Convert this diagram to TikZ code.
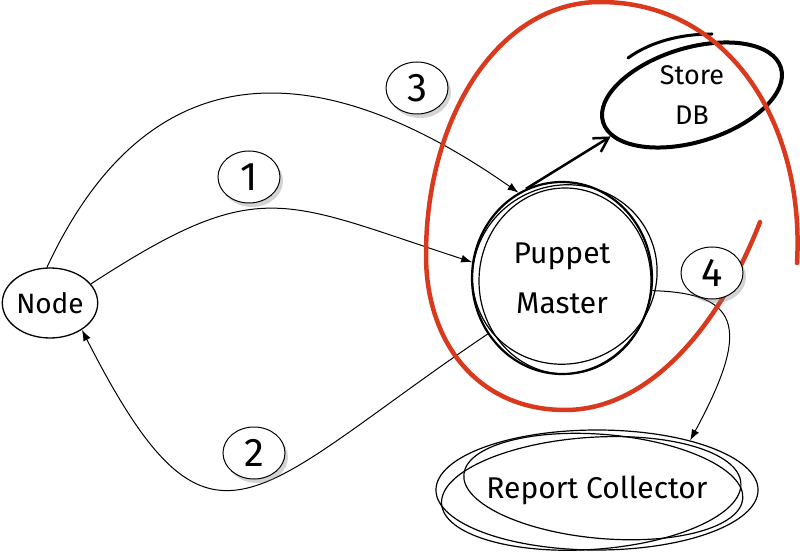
\documentclass[tikz,border=0pt]{standalone}
\usepackage{fontspec}
\setmainfont{Fira Sans}
\usepackage{xcolor}
\usetikzlibrary{arrows.meta,positioning,shapes.geometric,shadows}
\definecolor{pmRed}{HTML}{D9391C}
\tikzset{
  flowLine/.style={line width=1pt,-{Latex[length=11pt,width=8pt]}},
  sketchLine/.style={line width=1.2pt},
  numLabel/.style={ellipse,draw,fill=white,line width=1pt,minimum width=62pt,minimum height=52pt,inner sep=0pt,
    drop shadow={opacity=0.35,shadow xshift=3pt,shadow yshift=-4pt},font=\fontsize{40}{40}\selectfont},
}

\begin{document}
\begin{tikzpicture}[x=1pt,y=1pt]
    \useasboundingbox (0,0) rectangle (800,555);
    % main nodes
    \node[ellipse,draw,line width=1.3pt,minimum width=94pt,minimum height=70pt,inner sep=0pt,font=\fontsize{28}{30}\selectfont] (node) at (50,252) {Node};
    \node[ellipse,draw,line width=2.2pt,minimum width=180pt,minimum height=192pt,align=center,font=\fontsize{30}{50}\selectfont] (master) at (562,277) {Puppet\\Master};
    \draw[sketchLine] ([shift={(3,-3)}]master.center) ellipse[x radius=86,y radius=93];
    \draw[sketchLine,rotate around={25:(master.center)}] ([shift={(4,2)}]master.center) ellipse[x radius=93,y radius=89];
    \node[ellipse,draw,line width=4pt,rotate=17,minimum width=186pt,minimum height=94pt] (store) at (692,460) {};
    \node[align=center,font=\fontsize{27}{40}\selectfont] (storeText) at (store.center) {Store\\DB};
    \draw[line width=3pt,line cap=round] (628,497) .. controls (650,513) and (680,521) .. (712,521);
    \node[ellipse,draw,line width=1.2pt,minimum width=308pt,minimum height=120pt,font=\fontsize{30}{32}\selectfont] (report) at (597,65) {Report Collector};
    \draw[sketchLine,rotate around={4:(report.center)}] ([shift={(-6,-3)}]report.center) ellipse[x radius=150,y radius=56];
    \draw[sketchLine,rotate around={-5:(report.center)}] ([shift={(6,4)}]report.center) ellipse[x radius=140,y radius=52];

    % connectors
    \draw[flowLine] (node.25) to[out=33,in=162,looseness=1.35] (master.170);
    \draw[flowLine] (node.95) to[out=65,in=145,looseness=1.3] (master.117);
    \draw[flowLine] (master.217) to[out=214,in=-63,looseness=1.8] (node.-40);
    \draw[flowLine] (master.-8) .. controls (745,262) and (748,222) .. (report.28);
    \draw[line width=2.5pt,-{Straight Barb[length=14pt,width=16pt]}] (master.112) -- (store.190);

    % red scope
    \draw[pmRed,line width=4.5pt,line cap=round] (760,333) .. controls (720,230) and (650,145) .. (565,145)
      .. controls (480,145) and (426,210) .. (426,300)
      .. controls (426,440) and (500,553) .. (600,553)
      .. controls (730,553) and (805,430) .. (797,292);

    % step labels
    \node[numLabel] (lblOne) at (249,378) {1};
    \node[numLabel] (lblTwo) at (254,102) {2};
    \node[numLabel] (lblThree) at (417,467) {3};
    \node[numLabel] (lblFour) at (712,282) {4};
  \end{tikzpicture}
\end{document}
